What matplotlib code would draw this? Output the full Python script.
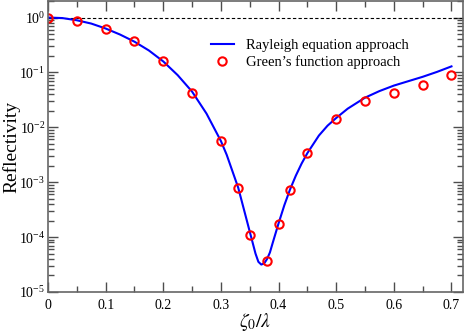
import numpy as np
import matplotlib
matplotlib.use('Agg')
import matplotlib.pyplot as plt
import matplotlib.ticker as mtick

plt.rcParams['font.family'] = 'Liberation Serif'
plt.rcParams['mathtext.fontset'] = 'stix'

# Rayleigh equation approach
x_line = [0.0, 0.025, 0.05, 0.075, 0.1, 0.125, 0.15, 0.175, 0.2, 0.225, 0.25,
          0.275, 0.3, 0.31, 0.32, 0.33, 0.34, 0.35, 0.355, 0.36, 0.365, 0.37,
          0.375, 0.38, 0.385, 0.39, 0.4, 0.41, 0.42, 0.43, 0.44, 0.45, 0.47,
          0.485, 0.5, 0.52, 0.55, 0.575, 0.6, 0.625, 0.65, 0.675, 0.7]
logR_line = [0.0, -0.01, -0.05, -0.11, -0.2, -0.31, -0.44, -0.6, -0.8, -1.05, -1.35,
             -1.75, -2.25, -2.5, -2.8, -3.1, -3.5, -3.9, -4.1, -4.3, -4.45, -4.5,
             -4.48, -4.4, -4.28, -4.1, -3.75, -3.42, -3.13, -2.88, -2.66, -2.47, -2.15,
             -1.97, -1.83, -1.66, -1.46, -1.34, -1.24, -1.16, -1.08, -0.99, -0.89]

# Green's function approach
x_pts = [0.0, 0.05, 0.1, 0.15, 0.2, 0.25, 0.3, 0.33, 0.35, 0.38, 0.4, 0.42,
         0.45, 0.5, 0.55, 0.6, 0.65, 0.7]
R_pts = [1.0, 0.88, 0.63, 0.37, 0.16, 0.043, 0.0056, 7.8e-4, 1.1e-4, 3.6e-5,
         1.7e-4, 7.2e-4, 3.4e-3, 0.014, 0.030, 0.042, 0.058, 0.089]

R_line = 10.0 ** np.array(logR_line)

fig = plt.figure(figsize=(4.65, 3.32), dpi=100)
ax = fig.add_axes([48/465., 40/332., 415/465., 291/332.])

ax.axhline(1.0, color='k', lw=0.8, ls=(0, (3, 2)))
ax.plot(x_line, R_line, '-', color='#0000ff', lw=1.5, label='Rayleigh equation approach')
ax.plot(x_pts, R_pts, 'o', mfc='none', mec='#ff0000', mew=1.5, ms=6,
        label=u'Green\u2019s function approach')

ax.set_yscale('log')
ax.set_xlim(0, 0.72)
ax.set_ylim(1e-5, 2.0)
ax.xaxis.set_major_locator(mtick.MultipleLocator(0.1))
ax.xaxis.set_minor_locator(mtick.MultipleLocator(0.05))
ax.xaxis.set_major_formatter(mtick.FuncFormatter(lambda v, p: '0' if abs(v) < 1e-9 else '%g' % v))
ax.yaxis.set_major_locator(mtick.LogLocator(base=10, numticks=10))
ax.yaxis.set_minor_locator(mtick.LogLocator(base=10, subs=np.arange(2, 10), numticks=10))
ax.yaxis.set_minor_formatter(mtick.NullFormatter())
ax.tick_params(which='both', direction='in', top=True, right=True, labelsize=10, color='0.3')
ax.tick_params(which='major', length=7, width=1)
ax.tick_params(which='minor', length=4, width=1)
ax.tick_params(axis='y', pad=2)
ax.tick_params(axis='x', pad=5)
for s in ax.spines.values():
    s.set_color('0.4')
    s.set_linewidth(1.2)

ax.set_ylabel('Reflectivity', fontsize=14)
ax.yaxis.set_label_coords(-0.067, 0.5)
ax.set_xlabel(r'$\zeta_0/\lambda$', fontsize=14)
ax.xaxis.set_label_coords(0.5, -0.065)

ax.legend(loc='upper left', bbox_to_anchor=(0.36, 0.915), frameon=False, fontsize=10.5,
          handlelength=1.6, handletextpad=0.8, labelspacing=0.2, numpoints=1)

fig.savefig('out.png', dpi=100)
